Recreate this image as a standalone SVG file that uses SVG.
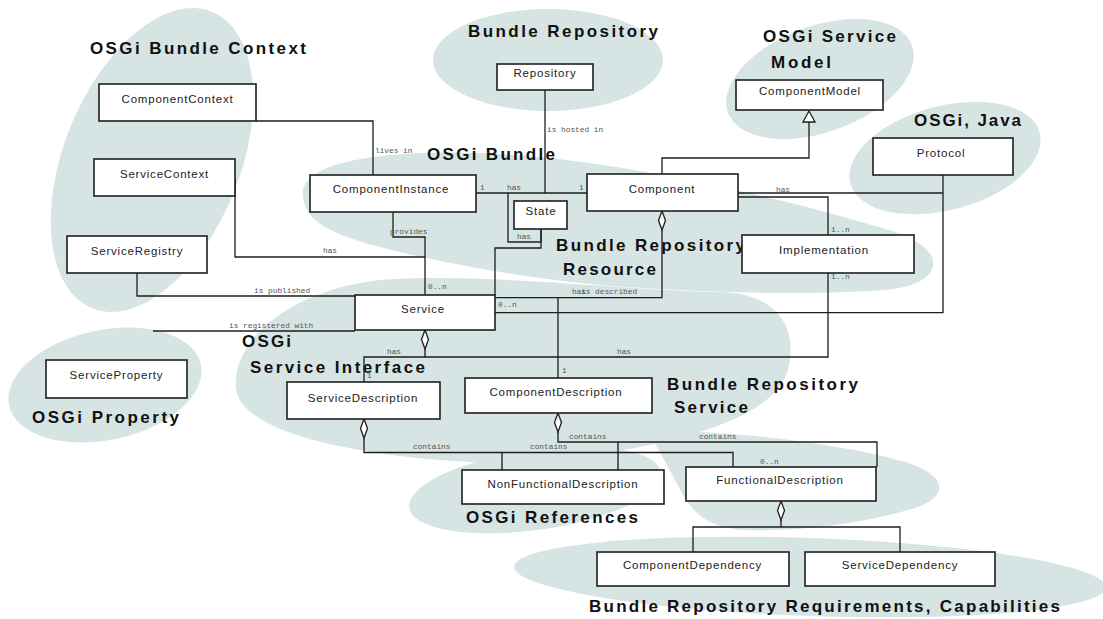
<svg xmlns="http://www.w3.org/2000/svg" width="1103" height="619" viewBox="0 0 1103 619">
<style>
.blob{fill:#d6e4e3;stroke:none}
.box{fill:#fff;stroke:#1e1e1e;stroke-width:1.6}
.nl{font-family:"Liberation Sans",Arial,sans-serif;font-size:11.5px;letter-spacing:0.8px;fill:#222;text-anchor:middle}
.gl{font-family:"Liberation Sans",Arial,sans-serif;font-size:17px;font-weight:bold;fill:#111}
.cl{font-family:"Liberation Mono","Courier New",monospace;font-size:7.8px;fill:#555}
.ln{fill:none;stroke:#1e1e1e;stroke-width:1.3}
.dm{fill:#fff;stroke:#1e1e1e;stroke-width:1.3}
</style>
<rect width="1103" height="619" fill="#fff"/>
<g id="blobs">
<ellipse class="blob" cx="152" cy="160" rx="88" ry="160" transform="rotate(22 152 160)"/>
<ellipse class="blob" cx="548" cy="60" rx="115" ry="51"/>
<ellipse class="blob" cx="820" cy="79" rx="98" ry="53" transform="rotate(-20 820 79)"/>
<ellipse class="blob" cx="945" cy="158" rx="98" ry="52" transform="rotate(-15 945 158)"/>
<path class="blob" d="M303,195 C300,160 390,150 480,153 C620,158 790,200 895,232 C950,250 945,285 885,290 C800,296 690,292 600,285 C500,275 400,255 350,238 C315,226 304,212 303,195 Z"/>
<path class="blob" d="M236,388 C232,340 290,290 380,280 C480,272 620,290 720,292 C770,293 795,320 790,360 C785,400 740,425 650,445 C580,460 510,466 440,460 C340,452 240,430 236,388 Z"/>
<path class="blob" d="M650,432 C720,428 850,445 905,462 C950,476 948,497 915,508 C870,522 800,532 745,530 C700,528 688,505 675,480 C665,460 655,445 650,432 Z"/>
<ellipse class="blob" cx="105" cy="385" rx="98" ry="55" transform="rotate(-12 105 385)"/>
<ellipse class="blob" cx="535" cy="490" rx="127" ry="40" transform="rotate(-8 535 490)"/>
<ellipse class="blob" cx="810" cy="577" rx="296" ry="39" transform="rotate(2 810 577)"/>
</g>
<g id="group-labels">
<text class="gl" x="90" y="54" textLength="216" lengthAdjust="spacing">OSGi Bundle Context</text>
<text class="gl" x="468" y="37" textLength="190" lengthAdjust="spacing">Bundle Repository</text>
<text class="gl" x="763" y="42" textLength="133" lengthAdjust="spacing">OSGi Service</text>
<text class="gl" x="771" y="68" textLength="60" lengthAdjust="spacing">Model</text>
<text class="gl" x="914" y="126" textLength="107" lengthAdjust="spacing">OSGi, Java</text>
<text class="gl" x="427" y="160" textLength="128" lengthAdjust="spacing">OSGi Bundle</text>
<text class="gl" x="556" y="251" textLength="189" lengthAdjust="spacing">Bundle Repository</text>
<text class="gl" x="563" y="275" textLength="93" lengthAdjust="spacing">Resource</text>
<text class="gl" x="242" y="347" textLength="49" lengthAdjust="spacing">OSGi</text>
<text class="gl" x="250" y="373" textLength="175" lengthAdjust="spacing">Service Interface</text>
<text class="gl" x="32" y="423" textLength="147" lengthAdjust="spacing">OSGi Property</text>
<text class="gl" x="667" y="390" textLength="191" lengthAdjust="spacing">Bundle Repository</text>
<text class="gl" x="674" y="413" textLength="74" lengthAdjust="spacing">Service</text>
<text class="gl" x="466" y="523" textLength="172" lengthAdjust="spacing">OSGi References</text>
<text class="gl" x="589" y="612" textLength="471" lengthAdjust="spacing">Bundle Repository Requirements, Capabilities</text>
</g>
<g id="connectors">
<path class="ln" d="M256,121 H373 V175"/>
<text class="cl" x="375" y="153">lives in</text>
<path class="ln" d="M235,178 V257 H425"/>
<text class="cl" x="323" y="253">has</text>
<path class="ln" d="M393,212 V237 H425 V295"/>
<text class="cl" x="390" y="234">provides</text>
<text class="cl" x="428" y="289">0..n</text>
<path class="ln" d="M137,273 V296 H355"/>
<text class="cl" x="254" y="293">is published</text>
<path class="ln" d="M153,331 H355"/>
<text class="cl" x="229" y="327.5">is registered with</text>
<path class="ln" d="M425,349 V357 H364 V382"/>
<polygon class="dm" points="425,330 428.5,339.5 425,349 421.5,339.5"/>
<text class="cl" x="387" y="354">has</text>
<text class="cl" x="367" y="378">1</text>
<path class="ln" d="M828,273 V357 H425"/>
<text class="cl" x="617" y="354">has</text>
<text class="cl" x="831" y="279">1..n</text>
<path class="ln" d="M662,174 V158 H809 V122"/>
<polygon class="dm" points="809,111 815,122 803,122"/>
<path class="ln" d="M738,193 H943"/>
<text class="cl" x="776" y="192">has</text>
<path class="ln" d="M943,175 V312.7 H495"/>
<text class="cl" x="498" y="307">0..n</text>
<path class="ln" d="M738,197 H828 V235"/>
<text class="cl" x="831" y="231.5">1..n</text>
<path class="ln" d="M476,193 H587"/>
<text class="cl" x="480" y="189.5">1</text>
<text class="cl" x="507" y="189.5">has</text>
<text class="cl" x="579" y="189.5">1</text>
<path class="ln" d="M545,90 V193"/>
<text class="cl" x="547" y="132">is hosted in</text>
<path class="ln" d="M508,193 V242 H541 V229"/>
<text class="cl" x="517" y="238.5">has</text>
<path class="ln" d="M541,229 V248 H495 V295"/>
<path class="ln" d="M662,230 V297.7 H495"/>
<polygon class="dm" points="662,211 665.5,220.5 662,230 658.5,220.5"/>
<text class="cl" x="572" y="294">has</text>
<text class="cl" x="581" y="294">is described</text>
<path class="ln" d="M558,297.7 V378"/>
<text class="cl" x="562" y="372.5">1</text>
<path class="ln" d="M558,432 V442 H877 V467 M618,442 V470"/>
<polygon class="dm" points="558,413 561.5,422.5 558,432 554.5,422.5"/>
<text class="cl" x="569" y="439">contains</text>
<text class="cl" x="699" y="439">contains</text>
<text class="cl" x="760" y="464">0..n</text>
<path class="ln" d="M364,438 V452.5 H733 V467 M502,452.5 V470"/>
<polygon class="dm" points="364,419 367.5,428.5 364,438 360.5,428.5"/>
<text class="cl" x="413" y="449">contains</text>
<text class="cl" x="530" y="449">contains</text>
<path class="ln" d="M781,520 V527 H693 V552 M781,527 H900 V552"/>
<polygon class="dm" points="781,501 784.5,510.5 781,520 777.5,510.5"/>
</g>
<g id="n-componentcontext"><rect class="box" x="99" y="84" width="157" height="37"/><text class="nl" x="177.5" y="103">ComponentContext</text></g>
<g id="n-servicecontext"><rect class="box" x="94" y="159" width="141" height="37"/><text class="nl" x="164.5" y="178">ServiceContext</text></g>
<g id="n-serviceregistry"><rect class="box" x="67" y="236" width="140" height="37"/><text class="nl" x="137" y="255">ServiceRegistry</text></g>
<g id="n-componentinstance"><rect class="box" x="310" y="175" width="166" height="37"/><text class="nl" x="391" y="193">ComponentInstance</text></g>
<g id="n-repository"><rect class="box" x="497" y="64" width="96" height="26"/><text class="nl" x="545" y="77">Repository</text></g>
<g id="n-component"><rect class="box" x="587" y="174" width="151" height="37"/><text class="nl" x="662" y="193">Component</text></g>
<g id="n-state"><rect class="box" x="514" y="201" width="53" height="28"/><text class="nl" x="541" y="215">State</text></g>
<g id="n-componentmodel"><rect class="box" x="736" y="80" width="147" height="30"/><text class="nl" x="810" y="95">ComponentModel</text></g>
<g id="n-protocol"><rect class="box" x="873" y="138" width="140" height="37"/><text class="nl" x="941" y="157">Protocol</text></g>
<g id="n-implementation"><rect class="box" x="742" y="235" width="172" height="38"/><text class="nl" x="824" y="254">Implementation</text></g>
<g id="n-service"><rect class="box" x="355" y="295" width="140" height="35"/><text class="nl" x="423" y="313">Service</text></g>
<g id="n-serviceproperty"><rect class="box" x="46" y="360" width="141" height="38"/><text class="nl" x="116.5" y="379">ServiceProperty</text></g>
<g id="n-servicedescription"><rect class="box" x="287" y="382" width="153" height="37"/><text class="nl" x="363" y="401.5">ServiceDescription</text></g>
<g id="n-componentdescription"><rect class="box" x="465" y="378" width="187" height="35"/><text class="nl" x="556" y="396">ComponentDescription</text></g>
<g id="n-nonfunctionaldescription"><rect class="box" x="462" y="470" width="202" height="34"/><text class="nl" x="563" y="488">NonFunctionalDescription</text></g>
<g id="n-functionaldescription"><rect class="box" x="686" y="467" width="190" height="34"/><text class="nl" x="780" y="484">FunctionalDescription</text></g>
<g id="n-componentdependency"><rect class="box" x="597" y="552" width="192" height="34"/><text class="nl" x="692.5" y="569">ComponentDependency</text></g>
<g id="n-servicedependency"><rect class="box" x="805" y="552" width="190" height="34"/><text class="nl" x="900" y="569">ServiceDependency</text></g>
</svg>
